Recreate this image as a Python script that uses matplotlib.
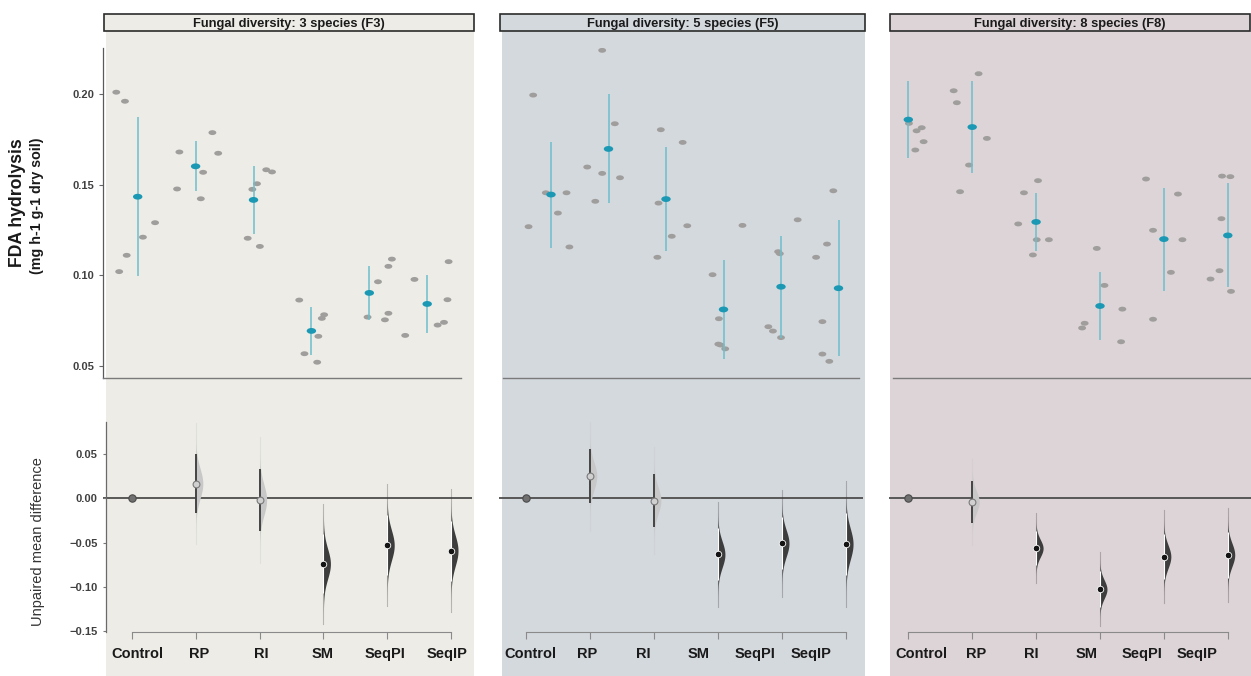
import numpy as np
import matplotlib
matplotlib.use("Agg")
import matplotlib.pyplot as plt
import matplotlib.transforms as mtransforms
from matplotlib.path import Path
from matplotlib.patches import Rectangle

plt.rcParams['font.family'] = ['Liberation Sans', 'DejaVu Sans']

groups = ["Control", "RP", "RI", "SM", "SeqPI", "SeqIP"]
titles = ["Fungal diversity: 3 species (F3)",
          "Fungal diversity: 5 species (F5)",
          "Fungal diversity: 8 species (F8)"]

# FDA hydrolysis (mg h-1 g-1 dry soil), 6 replicates per treatment
f3_vals = [
    [0.201, 0.196, 0.102, 0.111, 0.121, 0.129],
    [0.1476, 0.168, 0.1422, 0.1568, 0.1787, 0.1673],
    [0.1204, 0.1474, 0.1505, 0.1159, 0.1582, 0.157],
    [0.0863, 0.0567, 0.052, 0.0663, 0.0762, 0.0782],
    [0.0769, 0.0964, 0.0754, 0.079, 0.1049, 0.1089],
    [0.0668, 0.0977, 0.0725, 0.074, 0.0865, 0.1075],
]
f5_vals = [
    [0.1994, 0.1268, 0.1455, 0.1343, 0.1455, 0.1156],
    [0.2241, 0.1597, 0.1562, 0.1408, 0.1836, 0.1538],
    [0.1803, 0.1398, 0.1733, 0.1215, 0.1273, 0.1099],
    [0.1003, 0.076, 0.062, 0.0615, 0.0594, 0.1275],
    [0.0716, 0.0692, 0.113, 0.1119, 0.0656, 0.1306],
    [0.1099, 0.0744, 0.0565, 0.0525, 0.1172, 0.1466],
]
f8_vals = [
    [0.1838, 0.1797, 0.1814, 0.1737, 0.1691, 0.2275],
    [0.2112, 0.2018, 0.1952, 0.1755, 0.1608, 0.1461],
    [0.1522, 0.1455, 0.1283, 0.1196, 0.1196, 0.1112],
    [0.1148, 0.0944, 0.0813, 0.0735, 0.0709, 0.0633],
    [0.1531, 0.1448, 0.1248, 0.1196, 0.1016, 0.0757],
    [0.1547, 0.1544, 0.1312, 0.1025, 0.0979, 0.0911],
]

# horizontal jitter of the raw points (in group units)
f3_jit = [
    [-0.37, -0.22, -0.32, -0.19, 0.09, 0.30],
    [-0.32, -0.28, 0.09, 0.13, 0.29, 0.39],
    [-0.10, -0.02, 0.06, 0.11, 0.22, 0.32],
    [-0.21, -0.12, 0.10, 0.12, 0.18, 0.22],
    [-0.03, 0.15, 0.27, 0.33, 0.33, 0.39],
    [-0.38, -0.22, 0.18, 0.29, 0.35, 0.37],
]
f5_jit = [
    [-0.31, -0.39, -0.09, 0.12, 0.27, 0.32],
    [-0.11, -0.37, -0.11, -0.23, 0.11, 0.20],
    [-0.09, -0.13, 0.29, 0.10, 0.37, -0.15],
    [-0.19, -0.08, -0.09, -0.05, 0.03, 0.33],
    [-0.22, -0.14, -0.05, -0.02, 0.0, 0.29],
    [-0.39, -0.28, -0.28, -0.16, -0.20, -0.09],
]
f8_jit = [
    [0.01, 0.13, 0.21, 0.24, 0.11, 0.0],
    [0.10, -0.29, -0.24, 0.23, -0.05, -0.19],
    [0.03, -0.19, -0.28, 0.01, 0.20, -0.05],
    [-0.05, 0.07, 0.35, -0.24, -0.28, 0.33],
    [-0.28, 0.22, -0.17, 0.29, 0.11, -0.17],
    [-0.09, 0.04, -0.10, -0.13, -0.27, 0.05],
]

all_vals = [f3_vals, f5_vals, f8_vals]
all_jit = [f3_jit, f5_jit, f8_jit]

W, H = 1251, 676
fig = plt.figure(figsize=(W / 100, H / 100), dpi=100)

def fx(px):
    return px / W

def fy(py):
    return 1 - py / H

# pixel layout of each panel
panels = [
    dict(bg=(106, 474), head=(104, 474), color='#edece6',
         top=(103, 461, 137.7, 57.9), bot=(103, 472, 132, 63.8), lab=(0.08, 0.97)),
    dict(bg=(502, 865), head=(500, 865), color='#d4d9de',
         top=(503, 859, 551, 57.5), bot=(499, 863, 525.7, 64.06), lab=(0.08, 0.875)),
    dict(bg=(890, 1251), head=(890, 1250), color='#dcd4d7',
         top=(893, 1251, 908.3, 63.9), bot=(889, 1251, 908.3, 63.88), lab=(0.2, 0.865)),
]

ell = Path.unit_circle().transformed(mtransforms.Affine2D().scale(1.0, 0.62))

top_y0, top_y1 = 47.8, 378
bot_y0, bot_y1 = 421.7, 631.7

for k, p in enumerate(panels):
    vals = all_vals[k]
    jit = all_jit[k]

    # panel background and header strip
    x0, x1 = p['bg']
    fig.patches.append(Rectangle((fx(x0), 0), fx(x1) - fx(x0), fy(31),
                                 transform=fig.transFigure, facecolor=p['color'],
                                 edgecolor='none', zorder=-1))
    h0, h1 = p['head']
    fig.patches.append(Rectangle((fx(h0), fy(31)), fx(h1) - fx(h0), 17 / H,
                                 transform=fig.transFigure, facecolor=p['color'],
                                 edgecolor='#2b2b2b', lw=1.2, zorder=1))
    fig.text(fx((h0 + h1) / 2), fy(22.5), titles[k], ha='center', va='center_baseline',
             fontsize=9.3, fontweight='bold', color='#1a1a1a')

    # ---- raw data (top) ----
    a0, a1, g0, sp = p['top']
    ax = fig.add_axes([fx(a0), fy(top_y1), fx(a1) - fx(a0), (top_y1 - top_y0) / H])
    ax.patch.set_alpha(0)
    ax.set_xlim((a0 - g0) / sp, (a1 - g0) / sp)
    ax.set_ylim(0.0433, 0.2255)
    for i in range(len(groups)):
        v = np.array(vals[i])
        ax.scatter(i + np.array(jit[i]), v, marker=ell, s=32, color='#a09e9c',
                   edgecolors='none', zorder=2)
        m, s = v.mean(), v.std(ddof=1)
        ax.vlines(i, m - s, m + s, color='#6cbecc', lw=1.1, zorder=3)
        ax.scatter(i, m, marker=ell, s=46, color='#1b99b4', edgecolors='none', zorder=4)
    for side in ['top', 'right']:
        ax.spines[side].set_visible(False)
    ax.spines['bottom'].set_color('#7a7a7a')
    ax.spines['bottom'].set_linewidth(1.0)
    ax.set_xticks([])
    if k == 0:
        ax.spines['left'].set_color('#5a5a5a')
        ax.spines['left'].set_linewidth(0.9)
        ax.set_yticks([0.05, 0.10, 0.15, 0.20])
        ax.set_yticklabels(['0.05', '0.10', '0.15', '0.20'])
        ax.tick_params(axis='y', length=3, pad=3, color='#666666', labelsize=8,
                       labelcolor='#404040')
        for t in ax.get_yticklabels():
            t.set_fontweight('bold')
    else:
        ax.spines['left'].set_visible(False)
        ax.set_yticks([])

    # ---- mean differences (bottom) ----
    b0, b1, g0, sp = p['bot']
    bx = fig.add_axes([fx(b0), fy(bot_y1), fx(b1) - fx(b0), (bot_y1 - bot_y0) / H])
    bx.patch.set_alpha(0)
    bx.set_xlim((b0 - g0) / sp, (b1 - g0) / sp)
    bx.set_ylim(-0.1509, 0.0867)
    bx.axhline(0, color='#4d4d4d', lw=1.3, zorder=1)

    ctrl = np.array(vals[0])
    bx.scatter(0, 0, s=28, color='#707070', edgecolors='#4a4a4a', linewidths=0.8, zorder=5)
    for i in range(1, len(groups)):
        g = np.array(vals[i])
        d = g.mean() - ctrl.mean()
        se = np.sqrt(ctrl.var() / len(ctrl) + g.var() / len(g))
        lo, hi = d - 1.96 * se, d + 1.96 * se
        sig = hi < 0 or lo > 0
        fc = '#3d3d3d' if sig else '#c8c8c8'
        yy = np.linspace(d - 4 * se, d + 4 * se, 300)
        ww = 0.11 * np.exp(-0.5 * ((yy - d) / se) ** 2)
        bx.plot([i, i], [d - 4 * se, d + 4 * se], color=fc, alpha=0.3, lw=0.8, zorder=2)
        bx.fill_betweenx(yy, i, i + ww, color=fc, lw=0, zorder=3)
        if sig:
            bx.vlines(i, lo, hi, color='white', lw=0.8, zorder=4)
            bx.scatter(i, d, s=22, color='#141414', edgecolors='white', linewidths=0.6, zorder=5)
        else:
            bx.vlines(i, lo, hi, color='#444444', lw=1.4, zorder=4)
            bx.scatter(i, d, s=24, color='#d0d0d0', edgecolors='#7a7a7a', linewidths=0.8, zorder=5)

    for side in ['top', 'right']:
        bx.spines[side].set_visible(False)
    bx.spines['bottom'].set_bounds(0, 5)
    bx.spines['bottom'].set_color('#8a8a8a')
    bx.set_xticks(range(len(groups)))
    bx.set_xticklabels([''] * len(groups))
    bx.tick_params(axis='x', length=5, color='#8a8a8a')
    ls, lstep = p['lab']
    trans = mtransforms.blended_transform_factory(bx.transData, bx.transAxes)
    for i, name in enumerate(groups):
        bx.text(ls + lstep * i, (bot_y1 - 654) / (bot_y1 - bot_y0), name, transform=trans,
                ha='center', va='center', fontsize=10.5, fontweight='bold', color='#1a1a1a')
    if k == 0:
        bx.spines['left'].set_position(('data', (106 - g0) / sp))
        bx.spines['left'].set_color('#6a6a6a')
        bx.spines['left'].set_linewidth(0.9)
        bx.set_yticks([-0.15, -0.10, -0.05, 0.0, 0.05])
        bx.set_yticklabels(['\u22120.15', '\u22120.10', '\u22120.05', '0.00', '0.05'])
        bx.tick_params(axis='y', length=2, pad=4, color='#777777', labelsize=8,
                       labelcolor='#404040')
        for t in bx.get_yticklabels():
            t.set_fontweight('bold')
    else:
        bx.spines['left'].set_visible(False)
        bx.set_yticks([])

fig.text(fx(17.5), fy(203), 'FDA hydrolysis', rotation=90, ha='center', va='center',
         fontsize=12.7, fontweight='bold', color='#1a1a1a')
fig.text(fx(37.5), fy(206), '(mg h-1 g-1 dry soil)', rotation=90, ha='center', va='center',
         fontsize=10.3, fontweight='bold', color='#1a1a1a')
fig.text(fx(38), fy(542), 'Unpaired mean difference', rotation=90, ha='center', va='center',
         fontsize=10.5, color='#333333')

fig.savefig('out.png', dpi=100)
